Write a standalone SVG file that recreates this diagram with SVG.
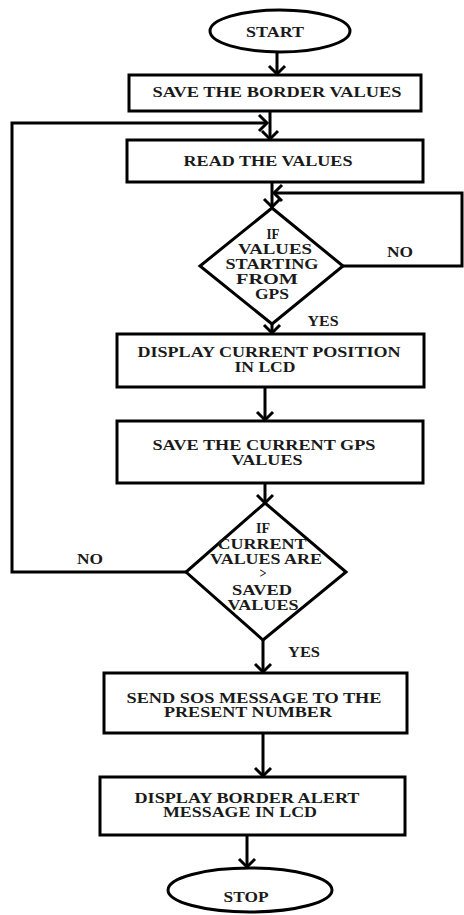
<svg xmlns="http://www.w3.org/2000/svg" width="464" height="915" viewBox="0 0 464 915">
<style>
.s{fill:#fff;stroke:#000;stroke-width:3}
.t{font-family:"Liberation Serif","Times New Roman",serif;font-weight:bold;font-size:14px;fill:#1a1a1a;text-anchor:middle}
.c{fill:none;stroke:#000;stroke-width:3}
</style>
<defs>
<marker id="arr" markerUnits="userSpaceOnUse" markerWidth="24" markerHeight="24" viewBox="-12 -12 24 24" refX="0" refY="0" orient="auto" overflow="visible">
<path d="M-8,-8 L0,0 L-8,8" fill="none" stroke="#000" stroke-width="3"/>
</marker>
</defs>
<rect width="464" height="915" fill="#fff"/>
<g id="connectors">
<path class="c" d="M277,52 V74" marker-end="url(#arr)"/>
<path class="c" d="M270,111 V139" marker-end="url(#arr)"/>
<path class="c" d="M186,572 H12 V123 H267" marker-end="url(#arr)"/>
<path class="c" d="M272,182 V207" marker-end="url(#arr)"/>
<path class="c" d="M343,266 H462 V193 H274" marker-end="url(#arr)"/>
<path class="c" d="M272,324 V333" marker-end="url(#arr)"/>
<path class="c" d="M265,387 V420" marker-end="url(#arr)"/>
<path class="c" d="M265,483 V503" marker-end="url(#arr)"/>
<path class="c" d="M263,640 V672" marker-end="url(#arr)"/>
<path class="c" d="M263,733 V776" marker-end="url(#arr)"/>
<path class="c" d="M247,835 V867" marker-end="url(#arr)"/>
<text class="t" x="400" y="257" textLength="26" lengthAdjust="spacingAndGlyphs">NO</text>
<text class="t" x="323" y="326" textLength="31" lengthAdjust="spacingAndGlyphs">YES</text>
<text class="t" x="90" y="564" textLength="26" lengthAdjust="spacingAndGlyphs">NO</text>
<text class="t" x="304" y="657" textLength="32" lengthAdjust="spacingAndGlyphs">YES</text>
</g>
<g id="start">
<ellipse class="s" cx="280" cy="31" rx="70" ry="21"/>
<text class="t" x="275" y="37" textLength="58" lengthAdjust="spacingAndGlyphs">START</text>
</g>
<g id="save-border">
<rect class="s" x="129" y="75" width="292" height="36"/>
<text class="t" x="277" y="97" textLength="249" lengthAdjust="spacingAndGlyphs">SAVE THE BORDER VALUES</text>
</g>
<g id="read-values">
<rect class="s" x="127" y="140" width="296" height="42"/>
<text class="t" x="268" y="166" textLength="169" lengthAdjust="spacingAndGlyphs">READ THE VALUES</text>
</g>
<g id="check-gps">
<polygon class="s" points="272,208 343,266 272,324 200,266"/>
<text class="t" x="273" y="239" textLength="13" lengthAdjust="spacingAndGlyphs">IF</text>
<text class="t" x="275" y="254" textLength="74" lengthAdjust="spacingAndGlyphs">VALUES</text>
<text class="t" x="272" y="269" textLength="93" lengthAdjust="spacingAndGlyphs">STARTING</text>
<text class="t" x="267" y="284" textLength="62" lengthAdjust="spacingAndGlyphs">FROM</text>
<text class="t" x="272" y="299" textLength="34" lengthAdjust="spacingAndGlyphs">GPS</text>
</g>
<g id="display-position">
<rect class="s" x="117" y="334" width="307" height="53"/>
<text class="t" x="269" y="357" textLength="263" lengthAdjust="spacingAndGlyphs">DISPLAY CURRENT POSITION</text>
<text class="t" x="265" y="372" textLength="61" lengthAdjust="spacingAndGlyphs">IN LCD</text>
</g>
<g id="save-current">
<rect class="s" x="117" y="421" width="306" height="62"/>
<text class="t" x="264" y="450" textLength="223" lengthAdjust="spacingAndGlyphs">SAVE THE CURRENT GPS</text>
<text class="t" x="267" y="465" textLength="71" lengthAdjust="spacingAndGlyphs">VALUES</text>
</g>
<g id="compare">
<polygon class="s" points="265,503 346,572 263,640 186,572"/>
<text class="t" x="263" y="533" textLength="14" lengthAdjust="spacingAndGlyphs">IF</text>
<text class="t" x="262" y="549" textLength="89" lengthAdjust="spacingAndGlyphs">CURRENT</text>
<text class="t" x="266" y="564" textLength="112" lengthAdjust="spacingAndGlyphs">VALUES ARE</text>
<text class="t" x="263" y="578" textLength="7" lengthAdjust="spacingAndGlyphs">&gt;</text>
<text class="t" x="262" y="595" textLength="60" lengthAdjust="spacingAndGlyphs">SAVED</text>
<text class="t" x="263" y="610" textLength="71" lengthAdjust="spacingAndGlyphs">VALUES</text>
</g>
<g id="send-sos">
<rect class="s" x="104" y="673" width="303" height="60"/>
<text class="t" x="254" y="703" textLength="255" lengthAdjust="spacingAndGlyphs">SEND SOS MESSAGE TO THE</text>
<text class="t" x="248" y="717" textLength="168" lengthAdjust="spacingAndGlyphs">PRESENT NUMBER</text>
</g>
<g id="border-alert">
<rect class="s" x="100" y="777" width="305" height="58"/>
<text class="t" x="247" y="803" textLength="225" lengthAdjust="spacingAndGlyphs">DISPLAY BORDER ALERT</text>
<text class="t" x="240" y="817" textLength="154" lengthAdjust="spacingAndGlyphs">MESSAGE IN LCD</text>
</g>
<g id="stop">
<ellipse class="s" cx="250" cy="890" rx="82" ry="22"/>
<text class="t" x="246" y="902" textLength="45" lengthAdjust="spacingAndGlyphs">STOP</text>
</g>
</svg>
